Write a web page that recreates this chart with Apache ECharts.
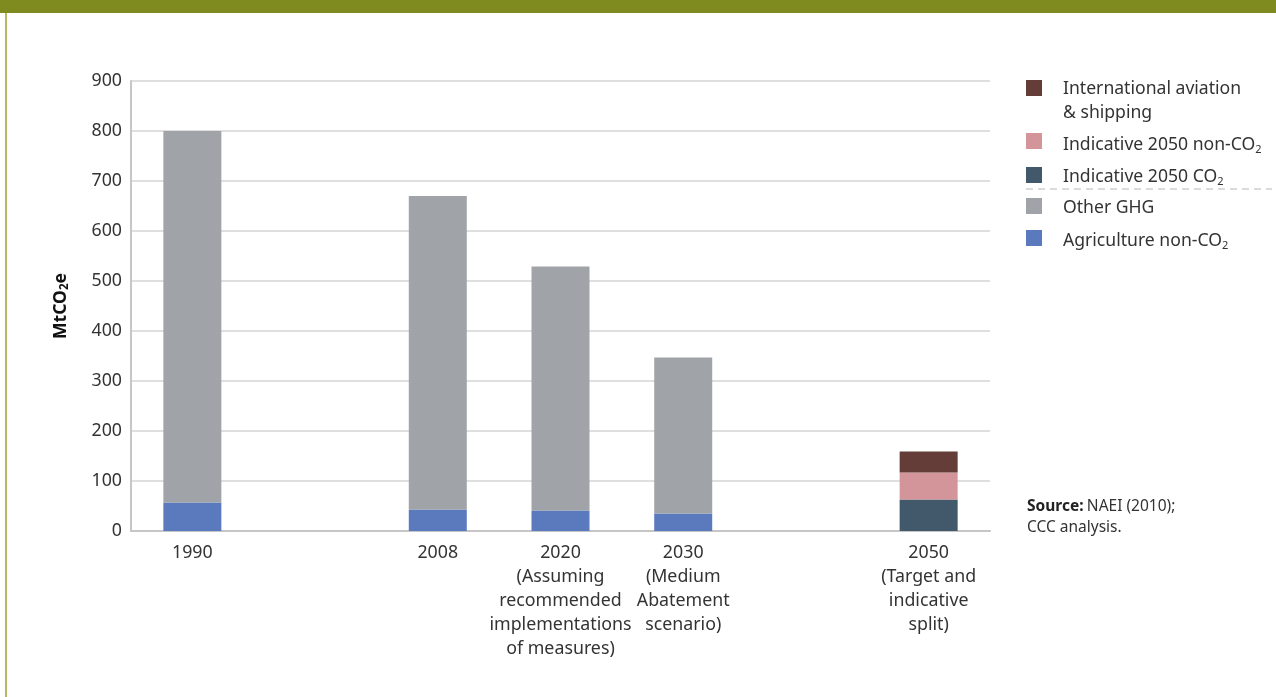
<!DOCTYPE html>
<html><head><meta charset="utf-8">
<script src="https://cdn.jsdelivr.net/npm/echarts@6/dist/echarts.min.js"></script>
<style>html,body{margin:0;padding:0;background:#fff}#c{width:1276px;height:697px}</style>
</head><body><div id="c"></div>
<script>
const categories = ['1990', '', '2008', '2020\n(Assuming\nrecommended\nimplementations\nof measures)', '2030\n(Medium\nAbatement\nscenario)', '', '2050\n(Target and\nindicative\nsplit)'];
const agricultureNonCO2 = [57, null, 43, 41, 35, null, null];
const otherGHG = [743, null, 627, 488, 312, null, null];
const indicativeCO2 = [null, null, null, null, null, null, 63];
const indicativeNonCO2 = [null, null, null, null, null, null, 54];
const aviationShipping = [null, null, null, null, null, null, 42];

const FONT = '"Noto Sans", "Open Sans", sans-serif';
const C = {agri:'#5a7abd', other:'#a0a3a7', co2:'#42586b', nonco2:'#d4959a', avi:'#653d38'};
const LF = 17.6;
const chart = echarts.init(document.getElementById('c'));
const legRich = {n:{fontSize:LF,fontFamily:FONT,fill:'#333',lineHeight:24}, s:{fontSize:11,fontFamily:FONT,fill:'#333',padding:[10,0,0,0],lineHeight:24}};
chart.setOption({
  animation:false,
  grid:{left:131, right:286, top:81, bottom:166, containLabel:false},
  xAxis:{type:'category', data:categories,
    axisLine:{lineStyle:{color:'#c6c6c6', width:2}}, axisTick:{show:false},
    axisLabel:{color:'#333', fontSize:17.8, fontFamily:FONT, lineHeight:24, margin:10, interval:0}},
  yAxis:{type:'value', min:0, max:900, interval:100,
    name:'{a|MtCO}{b|2}{a|e}', nameLocation:'middle', nameGap:60, nameRotate:90,
    nameTextStyle:{rich:{a:{fontSize:17.5,fontWeight:'bold',fontFamily:FONT,color:'#111'}, b:{fontSize:11.5,fontWeight:'bold',fontFamily:FONT,color:'#111',padding:[8,0,0,0]}}},
    axisLine:{show:true, lineStyle:{color:'#c6c6c6', width:2}}, axisTick:{show:false},
    splitLine:{lineStyle:{color:'#d4d4d4', width:1.5}},
    axisLabel:{color:'#333', fontSize:17.8, fontFamily:FONT, margin:9}},
  series:[
    {name:'Agriculture non-CO2', type:'bar', stack:'a', data:agricultureNonCO2, barWidth:58, itemStyle:{color:C.agri}},
    {name:'Other GHG', type:'bar', stack:'a', data:otherGHG, barWidth:58, itemStyle:{color:C.other}},
    {name:'Indicative 2050 CO2', type:'bar', stack:'a', data:indicativeCO2, barWidth:58, itemStyle:{color:C.co2}},
    {name:'Indicative 2050 non-CO2', type:'bar', stack:'a', data:indicativeNonCO2, barWidth:58, itemStyle:{color:C.nonco2}},
    {name:'International aviation & shipping', type:'bar', stack:'a', data:aviationShipping, barWidth:58, itemStyle:{color:C.avi}}
  ],
  graphic:[
    {type:'rect', left:0, top:0, shape:{width:1276,height:13}, style:{fill:'#7f8b1e'}},
    {type:'rect', left:5, top:13, shape:{width:2,height:684}, style:{fill:'#b4ba64'}},
    {type:'rect', left:1026, top:80, shape:{width:16,height:16}, style:{fill:C.avi}},
    {type:'text', left:1063, top:80, style:{text:'{n|International aviation}\n{n|& shipping}', rich:legRich}},
    {type:'rect', left:1026, top:133, shape:{width:16,height:16}, style:{fill:C.nonco2}},
    {type:'text', left:1063, top:134, style:{text:'{n|Indicative 2050 non-CO}{s|2}', rich:legRich}},
    {type:'rect', left:1026, top:167, shape:{width:16,height:16}, style:{fill:C.co2}},
    {type:'text', left:1063, top:166, style:{text:'{n|Indicative 2050 CO}{s|2}', rich:legRich}},
    {type:'line', shape:{x1:1026,y1:189,x2:1272,y2:189}, style:{stroke:'#b8b8b8', lineWidth:1.2, lineDash:[7,5]}},
    {type:'rect', left:1026, top:198, shape:{width:16,height:16}, style:{fill:C.other}},
    {type:'text', left:1063, top:199, style:{text:'{n|Other GHG}', rich:legRich}},
    {type:'rect', left:1026, top:230, shape:{width:16,height:16}, style:{fill:C.agri}},
    {type:'text', left:1063, top:230, style:{text:'{n|Agriculture non-CO}{s|2}', rich:legRich}},
    {type:'text', left:1027, top:499, style:{text:'{b|Source:} {n|NAEI (2010);}\n{n|CCC analysis.}', rich:{b:{fontSize:15.5,fontWeight:'bold',fontFamily:FONT,fill:'#222',lineHeight:21}, n:{fontSize:15.5,fontFamily:FONT,fill:'#333',lineHeight:21}}}}
  ]
});
</script></body></html>
